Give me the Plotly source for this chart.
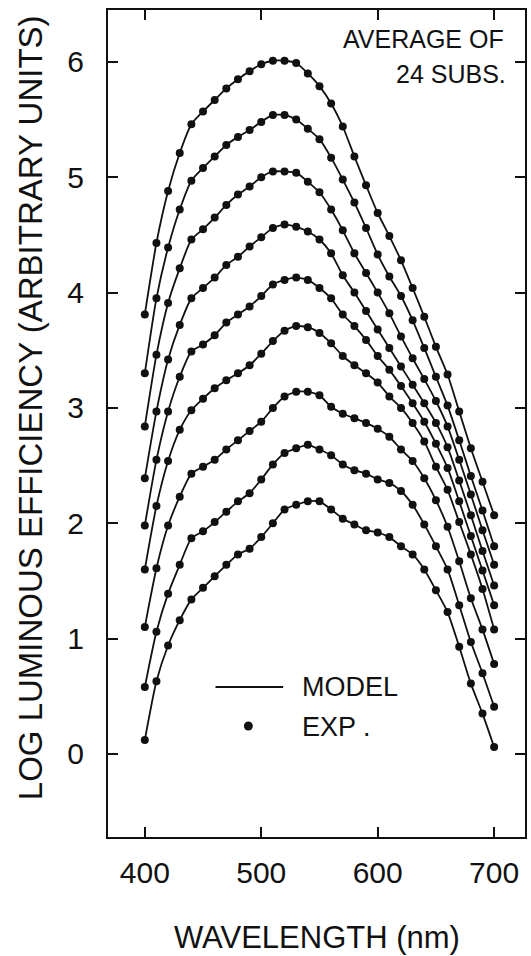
import plotly.graph_objects as go

WAVELENGTHS = [400, 410, 420, 430, 440, 450, 460, 470, 480, 490, 500,
               510, 520, 530, 540, 550, 560, 570, 580, 590, 600,
               610, 620, 630, 640, 650, 660, 670, 680, 690, 700]

# Log luminous efficiency curves (arbitrary units), bottom (c1) to top (c9)
c1 = [0.12, 0.63, 0.94, 1.16, 1.34, 1.44, 1.54, 1.64, 1.73, 1.78, 1.88,
      2.00, 2.12, 2.16, 2.19, 2.19, 2.12, 2.04, 1.99, 1.94, 1.92,
      1.88, 1.80, 1.73, 1.60, 1.42, 1.23, 0.93, 0.61, 0.35, 0.06]
c2 = [0.58, 1.06, 1.39, 1.64, 1.87, 1.93, 2.01, 2.10, 2.19, 2.26, 2.38,
      2.51, 2.61, 2.65, 2.68, 2.64, 2.59, 2.51, 2.46, 2.43, 2.38,
      2.35, 2.28, 2.16, 1.99, 1.80, 1.60, 1.29, 0.97, 0.70, 0.41]
c3 = [1.10, 1.61, 1.98, 2.23, 2.43, 2.49, 2.55, 2.64, 2.72, 2.80, 2.88,
      3.00, 3.10, 3.14, 3.14, 3.11, 3.01, 2.95, 2.91, 2.87, 2.82,
      2.75, 2.64, 2.54, 2.39, 2.20, 1.97, 1.67, 1.35, 1.08, 0.78]
c4 = [1.60, 2.15, 2.54, 2.81, 2.98, 3.08, 3.17, 3.24, 3.30, 3.37, 3.47,
      3.58, 3.67, 3.71, 3.70, 3.65, 3.56, 3.45, 3.37, 3.30, 3.22,
      3.10, 3.00, 2.87, 2.71, 2.49, 2.29, 2.01, 1.73, 1.43, 1.08]
c5 = [1.98, 2.55, 2.97, 3.27, 3.49, 3.55, 3.63, 3.74, 3.81, 3.88, 3.97,
      4.07, 4.11, 4.13, 4.11, 4.04, 3.95, 3.81, 3.71, 3.59, 3.45,
      3.33, 3.19, 3.04, 2.88, 2.69, 2.48, 2.19, 1.89, 1.59, 1.29]
c6 = [2.39, 2.97, 3.42, 3.72, 3.95, 4.04, 4.13, 4.24, 4.31, 4.40, 4.48,
      4.56, 4.59, 4.57, 4.53, 4.46, 4.34, 4.15, 4.00, 3.84, 3.68,
      3.52, 3.36, 3.20, 3.04, 2.87, 2.66, 2.37, 2.07, 1.76, 1.46]
c7 = [2.84, 3.46, 3.91, 4.21, 4.46, 4.55, 4.65, 4.76, 4.85, 4.92, 5.00,
      5.05, 5.05, 5.04, 4.96, 4.87, 4.72, 4.54, 4.34, 4.17, 4.00,
      3.82, 3.62, 3.43, 3.25, 3.06, 2.84, 2.55, 2.25, 1.94, 1.64]
c8 = [3.30, 3.95, 4.39, 4.72, 4.97, 5.08, 5.18, 5.28, 5.35, 5.41, 5.48,
      5.54, 5.54, 5.50, 5.42, 5.33, 5.17, 4.98, 4.78, 4.56, 4.33,
      4.14, 3.97, 3.76, 3.52, 3.27, 3.02, 2.72, 2.41, 2.11, 1.80]
c9 = [3.81, 4.43, 4.88, 5.21, 5.46, 5.57, 5.67, 5.77, 5.85, 5.92, 5.98,
      6.01, 6.01, 5.99, 5.90, 5.79, 5.64, 5.44, 5.18, 4.93, 4.69,
      4.49, 4.28, 4.04, 3.79, 3.53, 3.29, 2.97, 2.65, 2.36, 2.07]

CURVES = [c1, c2, c3, c4, c5, c6, c7, c8, c9]

X_TICKS = [400, 500, 600, 700]
Y_TICKS = [0, 1, 2, 3, 4, 5, 6]

FONT = "Liberation Sans, Arial, sans-serif"
INK = "#111111"

fig = go.Figure()
for vals in CURVES:
    fig.add_trace(go.Scatter(
        x=WAVELENGTHS, y=vals, mode="lines",
        line=dict(color=INK, width=1.8, shape="spline", smoothing=0.6),
        showlegend=False, hoverinfo="skip"))
    fig.add_trace(go.Scatter(
        x=WAVELENGTHS, y=vals, mode="markers",
        marker=dict(color=INK, size=8),
        showlegend=False))

axis_common = dict(
    showline=True, linecolor=INK, linewidth=2, mirror="ticks",
    ticks="inside", ticklen=10, tickwidth=2, tickcolor=INK,
    showgrid=False, zeroline=False,
    tickfont=dict(family=FONT, size=30, color=INK),
)

fig.update_xaxes(range=[368.4, 726.5], tickvals=X_TICKS,
                 ticklabelstandoff=8, **axis_common)
fig.update_yaxes(range=[-0.72, 6.45], tickvals=Y_TICKS,
                 ticklabelstandoff=16, **axis_common)

annotations = [
    dict(text="LOG LUMINOUS EFFICIENCY (ARBITRARY UNITS)", textangle=-90,
         xref="paper", yref="paper", x=-0.186, y=0.519,
         xanchor="center", yanchor="middle", showarrow=False,
         font=dict(family=FONT, size=33, color=INK)),
    dict(text="WAVELENGTH (nm)", xref="paper", yref="paper",
         x=0.501, y=-0.122, xanchor="center", yanchor="middle",
         showarrow=False, font=dict(family=FONT, size=31, color=INK)),
    dict(text="AVERAGE OF", xref="paper", yref="paper",
         x=0.955, y=0.9655, xanchor="right", yanchor="middle",
         showarrow=False, font=dict(family=FONT, size=25, color=INK)),
    dict(text="24 SUBS.", xref="paper", yref="paper",
         x=0.959, y=0.923, xanchor="right", yanchor="middle",
         showarrow=False, font=dict(family=FONT, size=25, color=INK)),
    dict(text="MODEL", xref="paper", yref="paper",
         x=0.4606, y=0.1814, xanchor="left", yanchor="middle",
         showarrow=False, font=dict(family=FONT, size=27, color=INK)),
    dict(text="EXP .", xref="paper", yref="paper",
         x=0.4606, y=0.1336, xanchor="left", yanchor="middle",
         showarrow=False, font=dict(family=FONT, size=27, color=INK)),
]

shapes = [
    dict(type="line", xref="paper", yref="paper",
         x0=0.2578, x1=0.4200, y0=0.1814, y1=0.1814,
         line=dict(color=INK, width=1.8)),
    dict(type="circle", xref="paper", yref="paper",
         x0=0.3258, x1=0.3473, y0=0.1288, y1=0.1397,
         fillcolor=INK, line=dict(color=INK, width=0)),
]

fig.update_layout(
    width=531, height=956,
    margin=dict(l=108, r=4, t=10, b=119),
    paper_bgcolor="white", plot_bgcolor="white",
    annotations=annotations, shapes=shapes,
    showlegend=False,
)

fig.write_html("out.html")
